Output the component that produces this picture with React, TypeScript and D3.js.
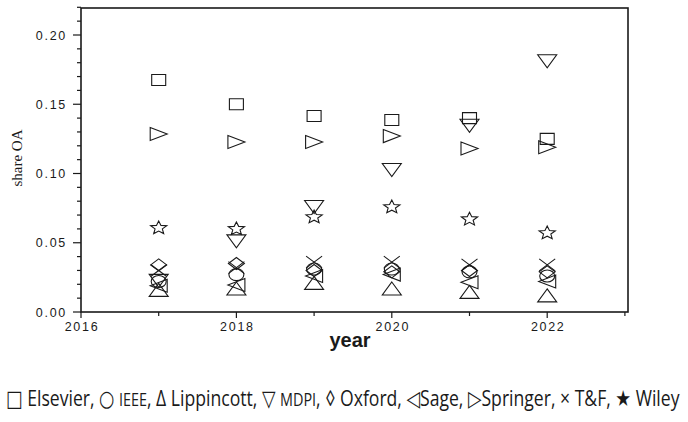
import { useEffect, useRef } from "react";
import * as d3 from "d3";

const years = [2017, 2018, 2019, 2020, 2021, 2022];

const elsevier = [0.1675, 0.15, 0.1415, 0.1386, 0.14, 0.125];
const ieee = [0.022, 0.027, 0.031, 0.031, 0.029, 0.026];
const lippincott = [0.016, 0.017, 0.021, 0.017, 0.0145, 0.012];
const mdpi = [0.0225, 0.051, 0.0758, 0.1025, 0.1345, 0.181];
const oxford = [0.034, 0.035, 0.03, 0.029, 0.03, 0.029];
const sage = [0.019, 0.0195, 0.026, 0.027, 0.0215, 0.022];
const springer = [0.1285, 0.1227, 0.1227, 0.127, 0.118, 0.119];
const tandf = [0.03, 0.032, 0.036, 0.036, 0.034, 0.034];
const wiley = [0.0607, 0.06, 0.0686, 0.0758, 0.067, 0.057];

const yTicks = [0, 0.05, 0.1, 0.15, 0.2];
const xTicks = [2016, 2018, 2020, 2022];

type Shape = "square" | "circle" | "up" | "down" | "diamond" | "left" | "right" | "cross" | "star";

const series: { name: string; shape: Shape; values: number[] }[] = [
  { name: "Elsevier", shape: "square", values: elsevier },
  { name: "IEEE", shape: "circle", values: ieee },
  { name: "Lippincott", shape: "up", values: lippincott },
  { name: "MDPI", shape: "down", values: mdpi },
  { name: "Oxford", shape: "diamond", values: oxford },
  { name: "Sage", shape: "left", values: sage },
  { name: "Springer", shape: "right", values: springer },
  { name: "T&F", shape: "cross", values: tandf },
  { name: "Wiley", shape: "star", values: wiley },
];

function markerPath(shape: Shape, cx: number, cy: number): string {
  const p = d3.path();
  const w = 8.5;
  const h = 6.5;
  switch (shape) {
    case "square":
      p.rect(cx - 7, cy - 5.5, 14, 11);
      break;
    case "circle":
      // ellipse drawn as two arcs via bezier approximation
      return `M${cx - 7.5},${cy}a7.5,6 0 1,0 15,0a7.5,6 0 1,0 -15,0Z`;
    case "up":
      p.moveTo(cx, cy - h);
      p.lineTo(cx + w + 1, cy + h);
      p.lineTo(cx - w - 1, cy + h);
      p.closePath();
      break;
    case "down":
      p.moveTo(cx - w - 1, cy - h);
      p.lineTo(cx + w + 1, cy - h);
      p.lineTo(cx, cy + h);
      p.closePath();
      break;
    case "diamond":
      p.moveTo(cx, cy - 6);
      p.lineTo(cx + 8, cy);
      p.lineTo(cx, cy + 6);
      p.lineTo(cx - 8, cy);
      p.closePath();
      break;
    case "left":
      p.moveTo(cx - w, cy);
      p.lineTo(cx + w, cy - h);
      p.lineTo(cx + w, cy + h);
      p.closePath();
      break;
    case "right":
      p.moveTo(cx - w, cy - h);
      p.lineTo(cx + w, cy);
      p.lineTo(cx - w, cy + h);
      p.closePath();
      break;
    case "cross":
      p.moveTo(cx - 8, cy - 6);
      p.lineTo(cx + 8, cy + 6);
      p.moveTo(cx + 8, cy - 6);
      p.lineTo(cx - 8, cy + 6);
      break;
    case "star": {
      for (let i = 0; i < 10; i++) {
        const a = -Math.PI / 2 + (i * Math.PI) / 5;
        const r = i % 2 === 0 ? 1 : 0.45;
        const x = cx + Math.cos(a) * r * 8.5;
        const y = cy + Math.sin(a) * r * 7;
        if (i === 0) p.moveTo(x, y);
        else p.lineTo(x, y);
      }
      p.closePath();
      break;
    }
  }
  return p.toString();
}

export default function App() {
  const svgRef = useRef<SVGSVGElement>(null);

  useEffect(() => {
    if (!svgRef.current) return;
    const svg = d3.select(svgRef.current);
    svg.selectAll("*").remove();

    const left = 81;
    const right = 628;
    const top = 8;
    const bottom = 312;

    const x = d3.scaleLinear().domain([2016, 2023]).range([left, left + 7 * 77.7]);
    const y = d3.scaleLinear().domain([0, 0.22]).range([bottom, bottom - 0.22 * 1385]);

    const ink = "#1a1a1a";
    const tickFont = "Liberation Sans, Arial, sans-serif";

    // frame
    svg
      .append("rect")
      .attr("x", left)
      .attr("y", top)
      .attr("width", right - left)
      .attr("height", bottom - top)
      .attr("fill", "none")
      .attr("stroke", ink)
      .attr("stroke-width", 1.6);

    // y axis ticks
    const yMinor = d3.range(0, 0.2201, 0.01);
    svg
      .append("g")
      .selectAll("line")
      .data(yMinor)
      .join("line")
      .attr("x1", left)
      .attr("x2", (d) => (Math.round(d * 100) % 5 === 0 ? left - 8 : left - 4))
      .attr("y1", (d) => y(d))
      .attr("y2", (d) => y(d))
      .attr("stroke", ink)
      .attr("stroke-width", 1.2);

    svg
      .append("g")
      .selectAll("text")
      .data(yTicks)
      .join("text")
      .attr("x", left - 14)
      .attr("y", (d) => y(d))
      .attr("dy", "0.36em")
      .attr("text-anchor", "end")
      .attr("font-family", tickFont)
      .attr("font-size", 12.5)
      .attr("letter-spacing", 1.7)
      .attr("fill", ink)
      .text((d) => d.toFixed(2));

    // x axis ticks
    const xAll = d3.range(2016, 2024);
    svg
      .append("g")
      .selectAll("line")
      .data(xAll)
      .join("line")
      .attr("x1", (d) => x(d))
      .attr("x2", (d) => x(d))
      .attr("y1", bottom)
      .attr("y2", (d) => (d % 2 === 0 ? bottom + 6 : bottom + 4))
      .attr("stroke", ink)
      .attr("stroke-width", 1.2);

    svg
      .append("g")
      .selectAll("text")
      .data(xTicks)
      .join("text")
      .attr("x", (d) => x(d) + 1)
      .attr("y", 331)
      .attr("text-anchor", "middle")
      .attr("font-family", tickFont)
      .attr("font-size", 12.5)
      .attr("letter-spacing", 1.7)
      .attr("fill", ink)
      .text((d) => d);

    // axis titles
    svg
      .append("text")
      .attr("x", 350)
      .attr("y", 347)
      .attr("text-anchor", "middle")
      .attr("font-family", tickFont)
      .attr("font-weight", "bold")
      .attr("font-size", 20)
      .attr("fill", ink)
      .text("year");

    svg
      .append("text")
      .attr("transform", `translate(22,158) rotate(-90)`)
      .attr("text-anchor", "middle")
      .attr("font-family", "Liberation Serif, Times New Roman, serif")
      .attr("font-size", 15)
      .attr("fill", ink)
      .text("share OA");

    // markers
    const g = svg.append("g").attr("fill", "none").attr("stroke", ink).attr("stroke-width", 1.1);
    series.forEach((s) => {
      g.append("g")
        .selectAll("path")
        .data(s.values)
        .join("path")
        .attr("d", (v, i) => markerPath(s.shape, x(years[i]), y(v)));
    });

    // legend: one line of text squeezed horizontally to the reference width
    const legend = svg
      .append("text")
      .attr("font-family", "Open Sans, DejaVu Sans, sans-serif")
      .attr("font-size", 22)
      .attr("fill", ink);
    const parts: [string, number][] = [
      ["□ Elsevier, ○ ", 22],
      ["IEEE", 18],
      [", Δ Lippincott, ▽ ", 22],
      ["MDPI", 18],
      [", ◊ Oxford, ◁Sage, ▷Springer, × T&F, ★ Wiley", 22],
    ];
    parts.forEach(([t, fs]) => legend.append("tspan").attr("font-size", fs).text(t));
    const node = legend.node() as SVGTextElement;
    const len = node.getComputedTextLength() || 674;
    legend.attr("transform", `translate(6,406) scale(${674 / len},1)`);
  }, []);

  return (
    <svg
      ref={svgRef}
      width={688}
      height={422}
      style={{ position: "absolute", left: 0, top: 0, background: "#fff" }}
    />
  );
}
